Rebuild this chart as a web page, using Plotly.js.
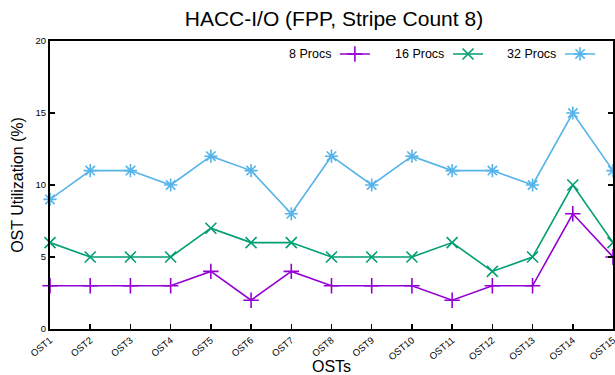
<!DOCTYPE html>
<html>
<head>
<meta charset="utf-8">
<script src="https://cdn.plot.ly/plotly-3.0.1.min.js"></script>
<style>html,body{margin:0;padding:0;background:#fff}#chart{width:615px;height:375px}</style>
</head>
<body>
<div id="chart"></div>
<script>
const categories = ["OST1","OST2","OST3","OST4","OST5","OST6","OST7","OST8","OST9","OST10","OST11","OST12","OST13","OST14","OST15"];
const procs8  = [3,3,3,3,4,2,4,3,3,3,2,3,3,8,5];
const procs16 = [6,5,5,5,7,6,6,5,5,5,6,4,5,10,6];
const procs32 = [9,11,11,10,12,11,8,12,10,12,11,11,10,15,11];
const seriesNames = ["8 Procs","16 Procs","32 Procs"];
const yTicks = [0,5,10,15,20];

const colors = ["#9400D3","#009E73","#56B4E9"];
const symbols = ["cross-thin-open","x-thin-open","asterisk-open"];
const legendIds = ["legend","legend2","legend3"];
const data = [procs8, procs16, procs32].map((ys, i) => ({
  x: categories, y: ys, type: "scatter", mode: "lines+markers",
  name: " ", legend: legendIds[i],
  line: {color: colors[i], width: 1.6},
  marker: {symbol: symbols[i], size: 11, color: colors[i], line: {color: colors[i], width: 1.6}},
  cliponaxis: false
}));

const font = "Liberation Sans, Arial, sans-serif";
const legX = [0.506, 0.707, 0.906];
const txtX = [0.503, 0.703, 0.902];
const legY = 0.955;
const layout = {
  width: 615, height: 375,
  margin: {l: 50, r: 2, t: 41, b: 46, autoexpand: false},
  paper_bgcolor: "#fff", plot_bgcolor: "#fff",
  font: {family: font, color: "#000"},
  title: {text: "HACC-I/O (FPP, Stripe Count 8)", font: {size: 21, family: font}, x: 0.543, xanchor: "center", y: 0.95, yanchor: "middle"},
  showlegend: true,
  xaxis: {
    type: "category", range: [0, 14], showgrid: false, zeroline: false,
    showline: true, linecolor: "#000", linewidth: 2, mirror: true,
    ticks: "inside", ticklen: 5, tickwidth: 1.5, tickcolor: "#000",
    tickangle: -40, tickfont: {size: 9.5, family: font},
    title: {text: "OSTs", font: {size: 16, family: font}, standoff: 0}
  },
  yaxis: {
    range: [0, 20], tickvals: yTicks, showgrid: false, zeroline: false,
    showline: true, linecolor: "#000", linewidth: 2, mirror: "ticks",
    ticks: "inside", ticklen: 5, tickwidth: 1.5, tickcolor: "#000",
    tickfont: {size: 9.5, family: font},
    title: {text: "OST Utilization (%)", font: {size: 16, family: font}, standoff: 8}
  },
  annotations: seriesNames.map((n, i) => ({
    text: n, xref: "paper", yref: "paper", x: txtX[i], y: legY, xanchor: "right", yanchor: "middle", showarrow: false, font: {size: 12.5, family: font}
  }))
};
legendIds.forEach((id, i) => {
  layout[id] = {x: legX[i], xanchor: "left", y: legY, yanchor: "middle", bgcolor: "rgba(0,0,0,0)", borderwidth: 0, font: {size: 12}, itemwidth: 30};
});
Plotly.newPlot("chart", data, layout, {displayModeBar: false, staticPlot: true});
</script>
</body>
</html>
